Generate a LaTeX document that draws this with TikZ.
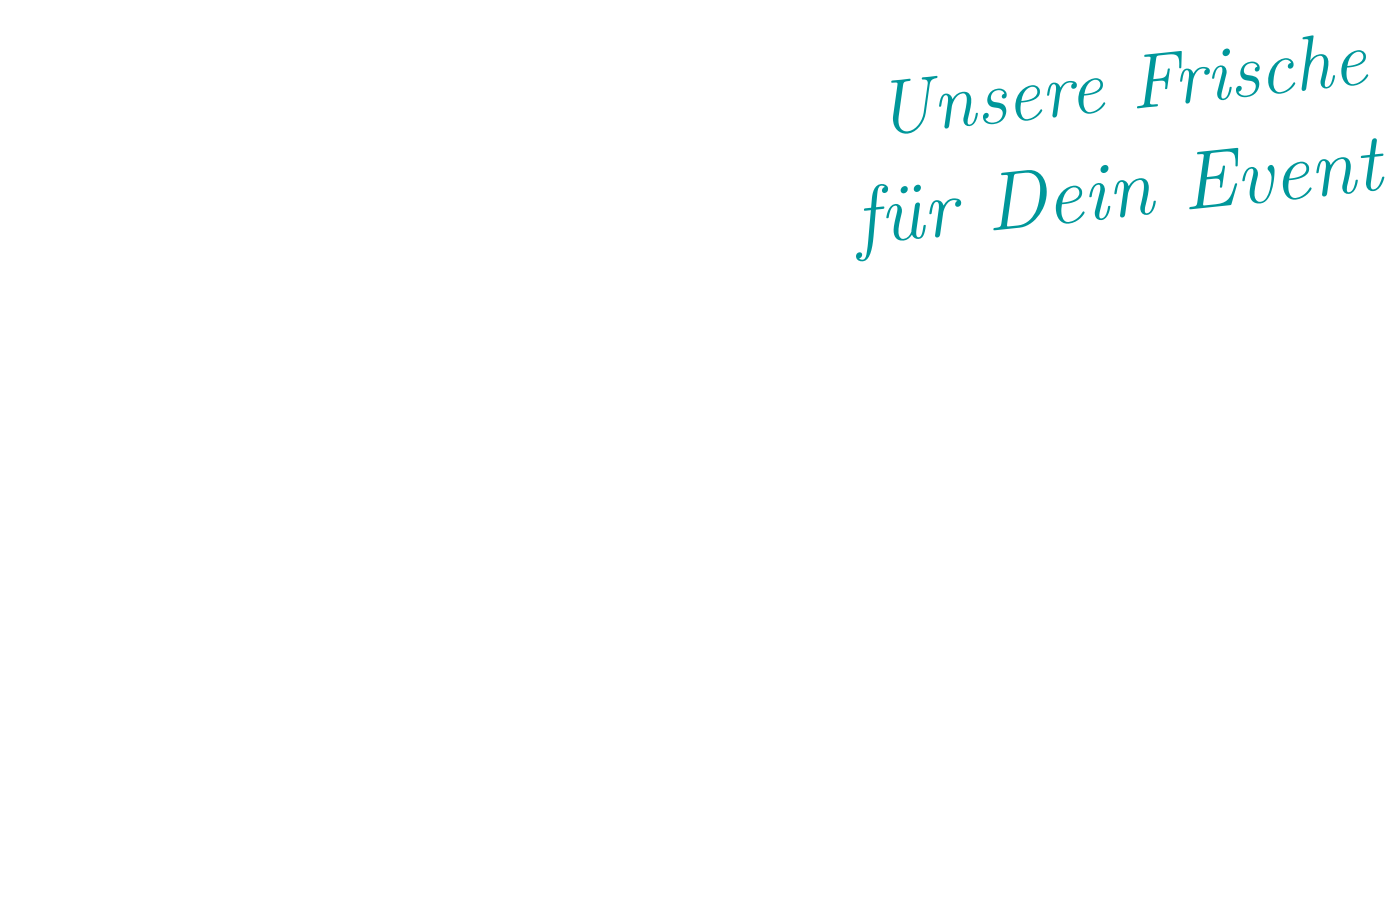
\documentclass[tikz,border=0pt]{standalone}
\definecolor{teal}{HTML}{00979A}
\tikzset{script/.style={text=teal, font=\fontsize{#1}{#1}\selectfont\itshape, rotate=6, inner sep=0pt}}
\begin{document}
\begin{tikzpicture}
\useasboundingbox (0,0) rectangle (14,-9.17);
\node[script=22] (l1) at (11.22,-0.84) {Unsere Frische};
\node[script=23.5] (l2) at (11.19,-1.97) {f\"ur Dein Event};
\end{tikzpicture}
\end{document}
